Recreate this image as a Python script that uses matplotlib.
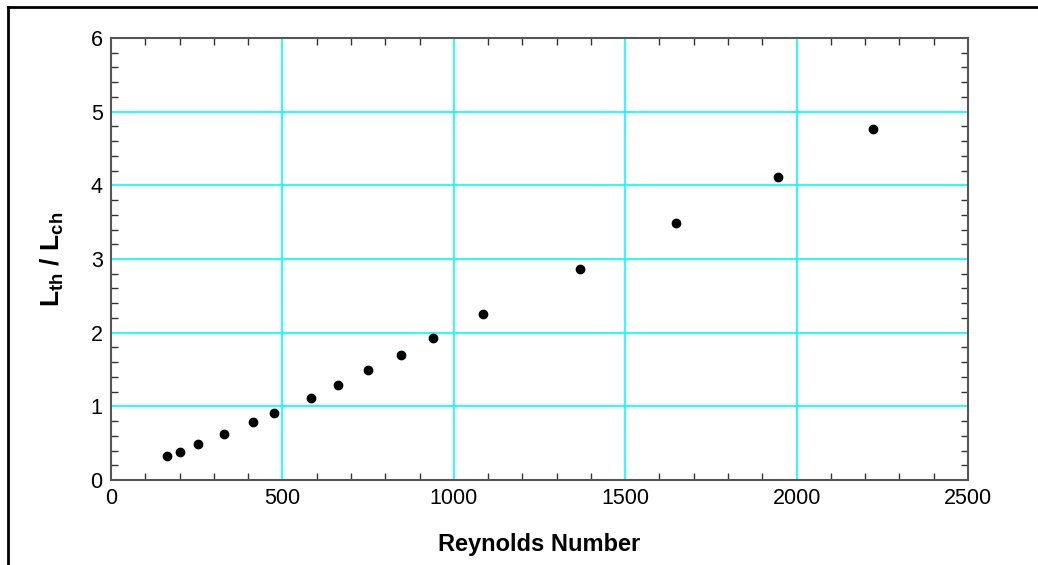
import numpy as np
import matplotlib
matplotlib.use('Agg')
import matplotlib.pyplot as plt
from matplotlib.lines import Line2D
from matplotlib.ticker import MultipleLocator

plt.rcParams['font.family'] = ['Liberation Sans', 'DejaVu Sans']
plt.rcParams['mathtext.fontset'] = 'custom'
plt.rcParams['mathtext.rm'] = 'Liberation Sans'
plt.rcParams['mathtext.bf'] = 'Liberation Sans:bold'

# Reynolds number vs thermal/channel length ratio
reynolds = [164, 202, 253, 329, 414, 476, 583, 661, 749, 846, 940, 1084,
            1368, 1648, 1947, 2224]
l_ratio = [0.32, 0.385, 0.485, 0.62, 0.787, 0.905, 1.11, 1.285, 1.49,
           1.70, 1.923, 2.253, 2.862, 3.488, 4.11, 4.762]

x_ticks = [0, 500, 1000, 1500, 2000, 2500]
y_ticks = [0, 1, 2, 3, 4, 5, 6]

fig = plt.figure(figsize=(10.38, 5.65), dpi=100)
ax = fig.add_axes([111/1038, 1-480/565, (968-111)/1038, (480-38)/565])

ax.plot(reynolds, l_ratio, 'o', color='black', markersize=6, zorder=3)

ax.set_xlim(0, 2500)
ax.set_ylim(0, 6)
ax.set_xticks(x_ticks)
ax.set_yticks(y_ticks)
ax.xaxis.set_minor_locator(MultipleLocator(100))
ax.yaxis.set_minor_locator(MultipleLocator(0.2))
ax.grid(True, which='major', color='#00ffff', linewidth=1.2, zorder=1)
ax.set_axisbelow(True)

ax.tick_params(which='both', direction='in', top=True, right=True,
               color='#333333', labelsize=15.5)
ax.tick_params(which='major', length=0)
ax.tick_params(which='minor', length=5, width=1)
ax.tick_params(axis='x', pad=6)
ax.tick_params(axis='y', pad=6)
for s in ax.spines.values():
    s.set_color('#555555')
    s.set_linewidth(1.5)

ax.set_xlabel('Reynolds Number', fontsize=17, fontweight='bold', labelpad=17)
ax.set_ylabel(r'$\mathbf{L_{th}}$ / $\mathbf{L_{ch}}$', fontsize=19,
              fontweight='bold', labelpad=18)

# outer frame (only left and top edges visible in the crop)
fig.add_artist(Line2D([8/1038, 8/1038], [0, 1-7/565], color='black', lw=2))
fig.add_artist(Line2D([8/1038, 1], [1-7/565, 1-7/565], color='black', lw=2))

fig.savefig('out.png', dpi=100)
